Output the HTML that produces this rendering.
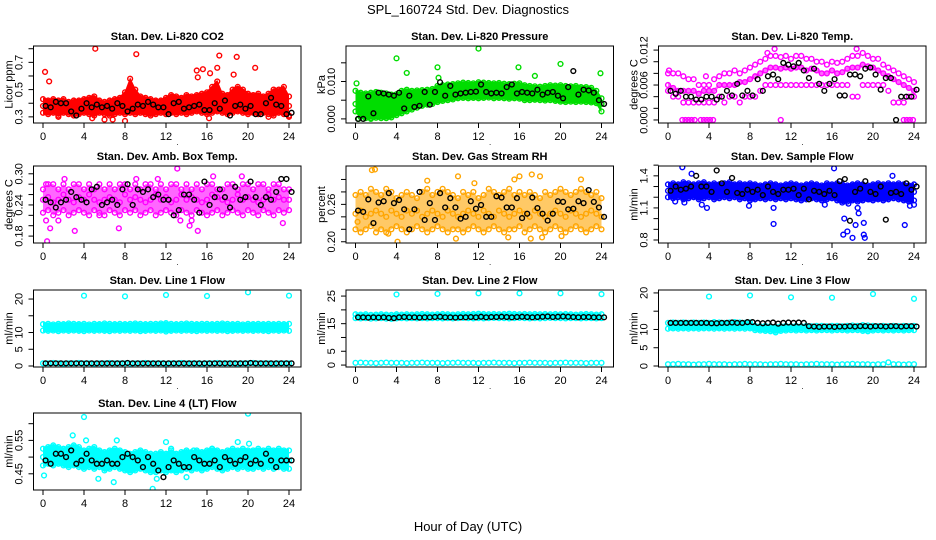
<!DOCTYPE html>
<html><head><meta charset="utf-8">
<style>
html,body{margin:0;padding:0;background:#fff;}
svg{display:block;font-family:"Liberation Sans",sans-serif;}
</style></head>
<body>
<svg id="chart" width="936" height="540" viewBox="0 0 936 540">
<text x="468" y="14" text-anchor="middle" font-size="13">SPL_160724  Std. Dev. Diagnostics</text>
<text x="468" y="531" text-anchor="middle" font-size="13">Hour of Day (UTC)</text>
</svg>
<script>
const co2Hi=[0.43,0.42,0.43,0.42,0.43,0.41,0.42,0.42,0.43,0.44,0.45,0.42,0.41,0.42,0.43,0.44,0.48,0.58,0.5,0.45,0.44,0.43,0.42,0.42,0.44,0.46,0.45,0.44,0.46,0.45,0.46,0.47,0.48,0.52,0.56,0.47,0.46,0.5,0.52,0.5,0.47,0.46,0.47,0.45,0.47,0.5,0.5,0.52,0.45];
const co2Mid=[0.38,0.37,0.38,0.36,0.37,0.38,0.37,0.36,0.38,0.37,0.38,0.37,0.36,0.37,0.38,0.37,0.39,0.42,0.4,0.38,0.37,0.38,0.37,0.36,0.38,0.39,0.38,0.37,0.38,0.39,0.38,0.4,0.41,0.43,0.42,0.39,0.38,0.4,0.41,0.4,0.39,0.38,0.39,0.38,0.39,0.4,0.41,0.4,0.38];
const co2Lo=[0.33,0.32,0.33,0.31,0.33,0.32,0.31,0.32,0.33,0.32,0.31,0.33,0.32,0.31,0.32,0.33,0.32,0.33,0.32,0.33,0.32,0.31,0.32,0.33,0.32,0.33,0.32,0.33,0.32,0.33,0.34,0.33,0.32,0.33,0.34,0.33,0.32,0.33,0.34,0.33,0.32,0.33,0.32,0.33,0.32,0.31,0.33,0.32,0.31];
const co2Black=[0.38,0.37,0.41,0.4,0.40,0.34,0.31,0.36,0.40,0.37,0.39,0.37,0.38,0.36,0.40,0.38,0.34,0.36,0.39,0.38,0.41,0.39,0.37,0.37,0.32,0.40,0.41,0.36,0.37,0.38,0.39,0.35,0.35,0.40,0.36,0.42,0.31,0.38,0.39,0.36,0.38,0.32,0.32,0.40,0.44,0.39,0.38,0.32,0.33];
const co2Out=[[0.2,0.63],[0.6,0.56],[5.1,0.8],[9.1,0.76],[15,0.64],[15.1,0.59],[15.6,0.65],[16.3,0.62],[17.2,0.75],[17,0.66],[18.6,0.61],[18.9,0.74],[20.7,0.66],[8,0.27],[6,0.28],[6.8,0.28],[4.8,0.29],[16.2,0.29],[22,0.3],[24,0.3],[1.5,0.3]];

const prHi=[0.0075,0.007,0.0068,0.007,0.0072,0.007,0.0068,0.0065,0.0066,0.0075,0.0078,0.0075,0.0076,0.0077,0.0078,0.008,0.0088,0.009,0.0092,0.0093,0.0095,0.0097,0.0096,0.0095,0.0098,0.0097,0.0096,0.0095,0.0096,0.0094,0.0093,0.0094,0.0095,0.009,0.0088,0.0087,0.0086,0.0088,0.009,0.0089,0.009,0.0088,0.0087,0.0088,0.0085,0.0085,0.0083,0.0075,0.0055];
const prMid=[0.004,0.003,0.0035,0.004,0.0045,0.0035,0.003,0.004,0.0035,0.0045,0.005,0.0045,0.005,0.0055,0.006,0.0062,0.0065,0.007,0.0072,0.0073,0.0075,0.0076,0.0075,0.0074,0.0076,0.0075,0.0074,0.0073,0.0074,0.0072,0.0071,0.0072,0.0073,0.007,0.0068,0.0069,0.0068,0.0067,0.0068,0.0066,0.0067,0.0066,0.0065,0.0066,0.0064,0.0065,0.0064,0.006,0.004];
const prLo=[0.002,0.0005,0.0002,0.0002,0.0003,0.0002,0.0002,0.0004,0.001,0.0015,0.002,0.0025,0.003,0.0035,0.0038,0.004,0.0045,0.0048,0.005,0.0052,0.0055,0.0056,0.0055,0.0056,0.0055,0.0056,0.0057,0.0055,0.0056,0.0055,0.0054,0.0055,0.0054,0.005,0.005,0.0051,0.005,0.0049,0.005,0.0048,0.0046,0.0045,0.0046,0.0045,0.0046,0.0045,0.0044,0.0042,0.002];
const prBlack=[0.0,0.0,0.006,0.0015,0.007,0.0068,0.0065,0.0062,0.007,0.0028,0.0062,0.0032,0.0035,0.0072,0.0038,0.0072,0.0098,0.0062,0.0088,0.0065,0.0068,0.007,0.0072,0.0073,0.0092,0.0072,0.0068,0.0070,0.0068,0.0085,0.0092,0.0068,0.0072,0.0070,0.0068,0.0078,0.0065,0.0070,0.0072,0.0062,0.0055,0.0085,0.0128,0.0065,0.0078,0.0076,0.0070,0.0050,0.0040];
const prOut=[[0.1,0.0095],[4,0.0162],[5,0.0123],[8,0.0138],[8.1,0.011],[12,0.0188],[15.9,0.0138],[17.5,0.0115],[20,0.0147],[23.9,0.0122],[0.3,0.0],[1.5,0.0]];

const tmpHi=[0.008,0.008,0.008,0.0075,0.007,0.007,0.006,0.006,0.006,0.007,0.0075,0.008,0.008,0.0085,0.008,0.0085,0.009,0.0095,0.01,0.0105,0.011,0.011,0.0108,0.011,0.0105,0.011,0.011,0.0105,0.0105,0.01,0.01,0.0095,0.01,0.0098,0.01,0.0105,0.011,0.011,0.0115,0.011,0.0105,0.0105,0.0095,0.009,0.0085,0.008,0.0075,0.007,0.0065];
const tmpMid=[0.006,0.0055,0.005,0.005,0.005,0.005,0.0045,0.005,0.005,0.005,0.006,0.006,0.006,0.006,0.0065,0.0065,0.007,0.0075,0.008,0.0085,0.009,0.009,0.0088,0.009,0.0088,0.009,0.009,0.0085,0.0088,0.0085,0.008,0.008,0.0085,0.008,0.0082,0.0088,0.009,0.009,0.0095,0.0092,0.009,0.0085,0.008,0.0075,0.007,0.0065,0.006,0.0055,0.005];
const tmpLo=[0.005,0.004,0.004,0.003,0.003,0.003,0.003,0.003,0.003,0.003,0.004,0.003,0.004,0.004,0.003,0.004,0.004,0.004,0.005,0.006,0.006,0.006,0.006,0.006,0.006,0.006,0.006,0.006,0.006,0.006,0.006,0.006,0.006,0.006,0.006,0.006,0.004,0.004,0.006,0.006,0.006,0.006,0.006,0.005,0.003,0.003,0.003,0.004,0.004];
const tmpBlack=[0.005,0.0045,0.005,0.004,0.004,0.0035,0.0035,0.004,0.004,0.0035,0.004,0.005,0.0042,0.0062,0.0042,0.005,0.0042,0.007,0.005,0.0075,0.0078,0.007,0.0098,0.0095,0.0092,0.0098,0.0085,0.0072,0.0088,0.0062,0.005,0.0062,0.007,0.0042,0.0042,0.0078,0.0078,0.0075,0.0088,0.009,0.0078,0.0052,0.0072,0.0072,0.0,0.004,0.004,0.004,0.0052];
const tmpOut=[[1.4,0],[1.7,0],[2,0],[2.3,0],[2.6,0],[3.2,0],[3.5,0],[3.8,0],[4.1,0],[4.4,0],[11,0],[23,0],[23.3,0],[23.6,0],[23.9,0],[10.4,0.0122],[18.4,0.0122],[9.7,0.0115],[0.1,0.0085],[3.7,0.0075]];

const ambHi=[0.27,0.28,0.28,0.27,0.28,0.27,0.28,0.28,0.27,0.28,0.27,0.28,0.27,0.28,0.27,0.28,0.28,0.27,0.28,0.27,0.28,0.28,0.27,0.28,0.27,0.28,0.28,0.27,0.28,0.27,0.28,0.27,0.28,0.28,0.27,0.27,0.28,0.28,0.27,0.28,0.28,0.27,0.28,0.28,0.27,0.28,0.28,0.27,0.27];
const ambMid=[0.25,0.255,0.245,0.25,0.26,0.25,0.245,0.255,0.25,0.26,0.25,0.245,0.25,0.255,0.25,0.245,0.26,0.25,0.255,0.25,0.245,0.25,0.26,0.25,0.255,0.245,0.25,0.26,0.25,0.255,0.25,0.245,0.25,0.26,0.255,0.25,0.245,0.25,0.26,0.25,0.255,0.25,0.245,0.25,0.26,0.25,0.255,0.25,0.25];
const ambLo=[0.225,0.23,0.22,0.225,0.23,0.22,0.225,0.23,0.225,0.22,0.23,0.225,0.22,0.23,0.225,0.22,0.23,0.225,0.23,0.22,0.225,0.23,0.22,0.225,0.23,0.225,0.22,0.23,0.225,0.22,0.23,0.225,0.22,0.225,0.23,0.22,0.225,0.23,0.225,0.22,0.23,0.225,0.22,0.23,0.225,0.22,0.23,0.225,0.23];
const ambBlack=[0.25,0.245,0.235,0.245,0.25,0.265,0.255,0.25,0.245,0.27,0.275,0.24,0.245,0.25,0.24,0.27,0.28,0.24,0.27,0.265,0.27,0.255,0.26,0.25,0.25,0.22,0.23,0.26,0.26,0.25,0.225,0.285,0.24,0.255,0.27,0.255,0.235,0.275,0.25,0.255,0.285,0.255,0.24,0.255,0.25,0.265,0.29,0.29,0.265];
const ambOut=[[0.3,0.28],[0.4,0.17],[0.3,0.21],[0.7,0.195],[2.1,0.29],[3.1,0.19],[7.4,0.195],[9.1,0.29],[11.2,0.29],[13.1,0.31],[13.4,0.21],[14.3,0.2],[15.1,0.19],[16.6,0.295],[19.4,0.295],[23.4,0.205],[14.5,0.21],[5.5,0.22],[1.5,0.21]];

const rhHi=[0.275,0.28,0.275,0.285,0.28,0.275,0.285,0.28,0.27,0.275,0.28,0.275,0.27,0.28,0.285,0.275,0.28,0.285,0.28,0.275,0.27,0.28,0.275,0.28,0.27,0.275,0.285,0.28,0.275,0.28,0.285,0.275,0.28,0.275,0.28,0.275,0.27,0.28,0.275,0.28,0.285,0.28,0.275,0.28,0.285,0.28,0.275,0.28,0.27];
const rhMid=[0.245,0.25,0.24,0.245,0.25,0.245,0.24,0.25,0.245,0.24,0.25,0.245,0.25,0.24,0.245,0.25,0.245,0.24,0.25,0.245,0.24,0.245,0.25,0.245,0.24,0.25,0.245,0.24,0.25,0.245,0.24,0.245,0.25,0.245,0.24,0.25,0.245,0.24,0.245,0.25,0.245,0.24,0.25,0.245,0.24,0.245,0.25,0.245,0.24];
const rhLo=[0.22,0.215,0.22,0.225,0.215,0.22,0.215,0.22,0.225,0.22,0.215,0.22,0.225,0.22,0.215,0.22,0.225,0.22,0.215,0.22,0.22,0.215,0.22,0.225,0.22,0.215,0.22,0.225,0.22,0.215,0.22,0.22,0.225,0.215,0.22,0.225,0.22,0.215,0.22,0.225,0.22,0.215,0.22,0.225,0.22,0.215,0.22,0.225,0.22];
const rhBlack=[0.25,0.248,0.268,0.23,0.263,0.265,0.278,0.262,0.267,0.252,0.22,0.252,0.28,0.235,0.262,0.235,0.278,0.255,0.27,0.255,0.237,0.24,0.265,0.253,0.259,0.24,0.24,0.273,0.271,0.255,0.255,0.27,0.238,0.245,0.271,0.254,0.245,0.234,0.245,0.265,0.264,0.252,0.253,0.265,0.262,0.283,0.264,0.255,0.24];
const rhOut=[[1.6,0.315],[1.9,0.316],[10,0.305],[15.5,0.3],[16,0.305],[17.2,0.308],[18,0.305],[22,0.3],[9.8,0.205],[14.9,0.207],[17.1,0.205],[18.2,0.207],[20.1,0.209],[4.1,0.2],[3.2,0.213],[0.2,0.232],[7,0.298],[11.6,0.294]];

const sfHi=[1.32,1.33,1.32,1.34,1.33,1.32,1.33,1.34,1.32,1.33,1.32,1.33,1.34,1.32,1.33,1.32,1.33,1.32,1.31,1.32,1.33,1.32,1.31,1.32,1.33,1.32,1.31,1.32,1.33,1.32,1.31,1.33,1.32,1.33,1.32,1.31,1.32,1.33,1.32,1.31,1.32,1.33,1.32,1.33,1.32,1.33,1.32,1.31,1.32];
const sfMid=[1.26,1.27,1.25,1.26,1.27,1.26,1.25,1.26,1.27,1.26,1.25,1.26,1.27,1.26,1.25,1.26,1.25,1.24,1.26,1.25,1.26,1.25,1.24,1.25,1.26,1.25,1.24,1.25,1.26,1.25,1.24,1.25,1.26,1.24,1.23,1.24,1.25,1.24,1.25,1.26,1.25,1.24,1.25,1.26,1.25,1.26,1.25,1.24,1.25];
const sfLo=[1.2,1.19,1.2,1.18,1.19,1.2,1.18,1.19,1.2,1.18,1.19,1.2,1.19,1.2,1.18,1.19,1.17,1.18,1.19,1.18,1.19,1.18,1.19,1.18,1.19,1.18,1.17,1.18,1.19,1.18,1.17,1.18,1.19,1.17,1.15,1.16,1.17,1.16,1.17,1.18,1.17,1.18,1.17,1.18,1.19,1.18,1.17,1.16,1.17];
const sfBlack=[1.26,1.3,1.27,1.28,1.3,1.4,1.3,1.3,1.25,1.45,1.33,1.25,1.38,1.24,1.23,1.27,1.25,1.27,1.22,1.3,1.25,1.23,1.27,1.27,1.28,1.22,1.28,1.18,1.26,1.25,1.23,1.26,1.22,1.35,1.37,0.98,1.25,1.28,1.35,1.25,1.23,1.3,0.99,1.24,1.25,1.23,1.33,1.27,1.3];
const sfOut=[[1.4,1.48],[2.3,1.42],[0.7,1.16],[1.6,1.15],[3.3,1.13],[3.8,1.1],[7.9,1.12],[10.3,0.95],[10.3,1.1],[15.3,1.13],[16.2,1.47],[17.2,1.0],[17.5,0.88],[17.1,0.85],[18,0.82],[18.3,0.94],[18.6,1.05],[18.5,1.1],[19.1,0.96],[19.1,0.85],[19.2,0.82],[21.9,1.4],[23.1,0.94],[24,1.13],[23.6,1.12],[19.6,1.18],[17.6,1.14]];

const l1Up=[12.5,12.6,12.4,12.6,12.5,12.7,12.6,12.5,12.6,12.4,12.6,12.5,12.7,12.6,12.5,12.6,12.5,12.6,12.7,12.6,12.5,12.6,12.6,12.7,12.8,12.6,12.5,12.6,12.7,12.6,12.5,12.6,12.6,12.5,12.6,12.7,12.6,12.5,12.6,12.4,12.6,12.5,12.6,12.5,12.6,12.5,12.6,12.5,12.6];
const l1Low=[10.6,10.5,10.6,10.4,10.6,10.5,10.6,10.5,10.4,10.6,10.5,10.6,10.5,10.4,10.6,10.5,10.6,10.5,10.6,10.4,10.5,10.6,10.5,10.6,10.3,10.5,10.6,10.5,10.6,10.5,10.4,10.6,10.5,10.6,10.5,10.6,10.4,10.5,10.6,10.5,10.6,10.5,10.6,10.5,10.4,10.6,10.5,10.6,10.5];
const l1Zero=[0.8,0.8,0.9,0.8,0.7,0.8,0.8,0.9,0.8,0.8,0.7,0.8,0.8,0.9,0.8,0.8,0.8,0.7,0.8,0.8,0.9,0.8,0.8,0.8,0.7,0.8,0.8,0.9,0.8,0.8,0.8,0.7,0.8,0.8,0.9,0.8,0.8,0.8,0.7,0.8,0.8,0.9,0.8,0.8,0.8,0.7,0.8,0.8,0.8];
const l1Black=[0.8,0.8,0.8,0.8,0.8,0.8,0.8,0.8,0.8,0.8,0.8,0.8,0.8,0.8,0.8,0.8,0.9,0.8,0.8,0.8,0.8,0.8,0.8,0.8,0.8,0.8,0.8,0.8,0.8,0.8,0.8,0.8,0.8,0.8,0.8,0.8,0.8,0.8,0.8,0.8,0.9,0.8,0.8,0.8,0.8,0.8,0.8,0.8,0.8];
const l1Out=[[4,21],[8,20.8],[12,21.2],[16,20.9],[20,22],[24,21]];

const l2Up=[18.4,18.3,18.4,18.2,18.3,18.4,18.3,18.2,18.4,18.3,18.4,18.3,18.4,18.5,18.4,18.3,18.4,18.5,18.4,18.3,18.4,18.5,18.4,18.5,18.6,18.5,18.4,18.5,18.4,18.5,18.6,18.5,18.4,18.5,18.4,18.5,18.4,18.5,18.4,18.5,18.4,18.5,18.4,18.3,18.4,18.5,18.4,18.3,18.4];
const l2Low=[17.0,16.9,17.0,16.8,16.9,17.0,16.8,16.7,16.9,17.0,16.9,17.0,16.9,17.0,16.9,17.0,17.0,16.9,17.0,16.9,17.0,17.1,17.0,16.9,17.0,16.9,17.0,17.1,17.0,17.0,16.9,17.0,17.1,17.0,16.9,17.0,16.9,17.0,17.1,17.0,17.0,16.9,17.0,17.0,16.9,17.0,17.0,16.9,17.0];
const l2Zero=[0.8,0.9,0.8,0.8,0.7,0.8,0.9,0.8,0.8,0.8,0.7,0.8,0.8,0.9,0.8,0.8,0.8,0.7,0.8,0.8,0.9,0.8,0.8,0.8,0.7,0.8,0.8,0.9,0.8,0.8,0.8,0.7,0.8,0.8,0.9,0.8,0.8,0.8,0.7,0.8,0.8,0.9,0.8,0.8,0.8,0.7,0.8,0.8,0.8];
const l2Black=[17.3,17.3,17.2,17.3,17.2,17.3,17.1,17.0,17.3,17.4,17.3,17.3,17.2,17.3,17.3,17.4,17.5,17.3,17.3,17.2,17.3,17.3,17.4,17.3,17.5,17.3,17.4,17.4,17.5,17.4,17.3,17.4,17.5,17.4,17.3,17.4,17.5,17.6,17.4,17.5,17.6,17.5,17.4,17.3,17.4,17.4,17.3,17.3,17.3];
const l2Out=[[4,25.6],[8,25.8],[12,26],[16,26],[20,26],[24,25.7]];

const l3Up=[11.8,11.9,11.8,11.9,11.8,11.9,11.8,11.9,11.8,12.0,11.9,11.8,11.9,12.0,11.9,11.8,11.9,11.0,10.9,11.0,10.9,10.8,10.9,11.0,10.9,11.0,10.9,11.0,10.9,11.0,11.0,10.9,11.0,11.0,10.9,11.0,11.1,11.0,11.2,11.1,11.0,10.9,11.0,10.9,11.0,10.9,11.0,10.9,11.0];
const l3Low=[10.2,10.3,10.2,10.3,10.2,10.3,10.2,10.3,10.3,10.2,10.3,10.2,10.3,10.2,10.3,10.2,10.3,9.8,9.7,9.6,9.5,9.2,9.6,9.7,9.8,9.7,9.8,9.7,9.8,9.7,9.8,9.8,9.7,9.8,9.8,9.7,9.8,9.8,9.6,9.5,9.7,9.8,9.7,9.8,9.7,9.8,9.7,9.8,9.8];
const l3Zero=[0.5,0.5,0.6,0.5,0.5,0.4,0.5,0.5,0.6,0.5,0.5,0.5,0.4,0.5,0.5,0.6,0.5,0.5,0.5,0.4,0.5,0.5,0.6,0.5,0.5,0.5,0.4,0.5,0.5,0.6,0.5,0.5,0.5,0.4,0.5,0.5,0.6,0.5,0.5,0.5,0.4,0.5,0.5,1.0,0.5,0.5,0.4,0.5,0.5];
const l3Black=[11.8,11.8,11.8,11.8,11.8,11.8,11.8,11.8,11.7,11.7,11.8,11.8,11.9,11.8,11.8,12.0,12.0,11.8,11.7,11.8,11.9,11.6,11.8,11.9,11.8,11.9,11.8,10.9,10.8,10.7,10.8,10.8,10.7,10.8,10.8,10.9,10.8,10.9,10.9,10.8,10.9,10.9,10.8,10.9,10.9,10.8,10.9,10.9,10.8];
const l3Out=[[4,19],[8,19.3],[12,18.8],[16,18.7],[20,19.7],[24,18.4]];

const l4Hi=[0.525,0.53,0.535,0.53,0.525,0.53,0.535,0.53,0.52,0.525,0.53,0.52,0.515,0.52,0.525,0.52,0.515,0.51,0.515,0.52,0.515,0.51,0.51,0.515,0.51,0.52,0.51,0.515,0.52,0.515,0.52,0.515,0.52,0.525,0.52,0.515,0.52,0.525,0.52,0.525,0.52,0.52,0.525,0.52,0.525,0.52,0.525,0.52,0.52];
const l4Mid=[0.5,0.505,0.5,0.51,0.5,0.505,0.5,0.495,0.49,0.5,0.495,0.49,0.485,0.49,0.495,0.49,0.485,0.48,0.485,0.49,0.485,0.48,0.48,0.485,0.48,0.485,0.48,0.485,0.49,0.485,0.49,0.485,0.49,0.495,0.49,0.485,0.49,0.495,0.49,0.495,0.49,0.49,0.495,0.49,0.495,0.49,0.495,0.49,0.49];
const l4Lo=[0.475,0.48,0.475,0.48,0.475,0.47,0.475,0.47,0.465,0.47,0.465,0.47,0.46,0.465,0.47,0.465,0.46,0.455,0.46,0.465,0.46,0.455,0.455,0.46,0.455,0.46,0.455,0.46,0.465,0.46,0.465,0.46,0.465,0.47,0.465,0.46,0.465,0.47,0.465,0.47,0.465,0.465,0.47,0.465,0.47,0.465,0.47,0.465,0.465];
const l4Black=[0.49,0.48,0.51,0.51,0.5,0.52,0.48,0.49,0.51,0.49,0.48,0.48,0.49,0.48,0.48,0.50,0.51,0.50,0.49,0.47,0.50,0.48,0.46,0.44,0.47,0.49,0.48,0.47,0.47,0.50,0.49,0.48,0.48,0.49,0.47,0.50,0.49,0.48,0.49,0.50,0.48,0.49,0.48,0.51,0.49,0.47,0.49,0.49,0.49];
const l4Out=[[0.1,0.445],[4,0.62],[2.9,0.565],[7.2,0.55],[4.2,0.55],[20,0.63],[12,0.545],[12.5,0.525],[19,0.545],[20.1,0.54],[5.4,0.435],[6.9,0.425],[10.7,0.405],[11.1,0.435],[14,0.44],[16.5,0.525],[14.7,0.52]];

const hours=[];for(let i=0;i<49;i++)hours.push(i*0.5);
const xTickVals=[0,4,8,12,16,20,24];

const panels=[
 {id:'co2',col:0,row:0,title:'Stan. Dev. Li-820 CO2',ylab:'Licor ppm',ymin:0.255,ymax:0.82,ticks:[0.3,0.4,0.5,0.6,0.7,0.8],labels:[[0.3,'0.3'],[0.5,'0.5'],[0.7,'0.7']],color:'#ff0000',bands:[[co2Hi,co2Lo]],op:1,pad:1.5,pts:[co2Hi,co2Mid,co2Lo],out:co2Out,black:co2Black},
 {id:'pressure',col:1,row:0,title:'Stan. Dev. Li-820 Pressure',ylab:'kPa',ymin:-0.0011,ymax:0.0195,ticks:[0,0.005,0.01,0.015],labels:[[0,'0.000'],[0.01,'0.010']],color:'#00dd00',bands:[[prHi,prLo]],op:1,pad:1.5,pts:[prHi,prMid,prLo],out:prOut,black:prBlack},
 {id:'temp',col:2,row:0,title:'Stan. Dev. Li-820 Temp.',ylab:'degrees C',ymin:-0.00052,ymax:0.0127,ticks:[0,0.002,0.004,0.006,0.008,0.01,0.012],labels:[[0,'0.000'],[0.006,'0.006'],[0.012,'0.012']],color:'#ff00ff',bands:[[tmpMid,tmpMid]],op:0.6,pad:2,pts:[tmpHi,tmpMid,tmpLo],out:tmpOut,black:tmpBlack},
 {id:'ambbox',col:0,row:1,title:'Stan. Dev. Amb. Box Temp.',ylab:'degrees C',ymin:0.1667,ymax:0.315,ticks:[0.18,0.2,0.22,0.24,0.26,0.28,0.3],labels:[[0.18,'0.18'],[0.24,'0.24'],[0.3,'0.30']],color:'#ff00ff',bands:[[ambHi,ambLo]],op:0.6,pad:0,pts:[ambHi,ambMid,ambLo],out:ambOut,black:ambBlack},
 {id:'rh',col:1,row:1,title:'Stan. Dev. Gas Stream RH',ylab:'percent',ymin:0.198,ymax:0.3216,ticks:[0.2,0.22,0.24,0.26,0.28,0.3],labels:[[0.2,'0.20'],[0.26,'0.26']],color:'#ffa500',bands:[[rhHi,rhLo]],op:0.6,pad:0,pts:[rhHi,rhMid,rhLo],out:rhOut,black:rhBlack},
 {id:'sampleflow',col:2,row:1,title:'Stan. Dev. Sample Flow',ylab:'ml/min',ymin:0.772,ymax:1.492,ticks:[0.8,0.9,1.0,1.1,1.2,1.3,1.4,1.5],labels:[[0.8,'0.8'],[1.1,'1.1'],[1.4,'1.4']],color:'#0000ff',bands:[[sfHi,sfLo]],op:1,pad:1.5,pts:[sfHi,sfMid,sfLo],out:sfOut,black:sfBlack},
 {id:'line1',col:0,row:2,title:'Stan. Dev. Line 1 Flow',ylab:'ml/min',ymin:-0.3,ymax:22.7,ticks:[0,5,10,15,20],labels:[[0,'0'],[5,'5'],[10,'10'],[20,'20']],color:'#00ffff',bands:[[l1Up,l1Low]],op:1,pad:1.5,pts:[l1Up,l1Low,l1Zero],out:l1Out,black:l1Black},
 {id:'line2',col:1,row:2,title:'Stan. Dev. Line 2 Flow',ylab:'ml/min',ymin:-0.7,ymax:27.2,ticks:[0,5,10,15,20,25],labels:[[0,'0'],[5,'5'],[15,'15'],[25,'25']],color:'#00ffff',bands:[[l2Up,l2Low]],op:1,pad:1.5,pts:[l2Up,l2Low,l2Zero],out:l2Out,black:l2Black},
 {id:'line3',col:2,row:2,title:'Stan. Dev. Line 3 Flow',ylab:'ml/min',ymin:-0.27,ymax:20.8,ticks:[0,5,10,15,20],labels:[[0,'0'],[5,'5'],[10,'10'],[20,'20']],color:'#00ffff',bands:[[l3Up,l3Low]],op:1,pad:1.5,pts:[l3Up,l3Low,l3Zero],out:l3Out,black:l3Black},
 {id:'line4',col:0,row:3,title:'Stan. Dev. Line 4 (LT) Flow',ylab:'ml/min',ymin:0.4015,ymax:0.632,ticks:[0.45,0.5,0.55,0.6],labels:[[0.45,'0.45'],[0.55,'0.55']],color:'#00ffff',bands:[[l4Hi,l4Lo]],op:1,pad:1.5,pts:[l4Hi,l4Mid,l4Lo],out:l4Out,black:l4Black}
];
const rowTops=[46,166,290,413];
const NS='http://www.w3.org/2000/svg';
const svg=document.getElementById('chart');
function mk(tag,attrs,parent){const e=document.createElementNS(NS,tag);for(const k in attrs)e.setAttribute(k,attrs[k]);parent.appendChild(e);return e;}

panels.forEach(p=>{
  const x0=43+p.col*312.5, x24=289+p.col*312.5;
  const left=x0-9.5, right=x24+12, top=rowTops[p.row], bottom=top+77;
  const xs=h=>x0+h/24*(x24-x0);
  const ys=v=>bottom-(v-p.ymin)/(p.ymax-p.ymin)*(bottom-top);
  const g=mk('g',{},svg);
  
  
  const clipId='clip-'+p.id;
  const cp=mk('clipPath',{id:clipId},g);
  mk('rect',{x:left,y:top,width:right-left,height:bottom-top},cp);
  const t=mk('text',{x:(left+right)/2,y:top-6,'text-anchor':'middle','font-size':'11','font-weight':'bold'},g);
  t.textContent=p.title;
  
  
  const marks=mk('g',{'clip-path':'url(#'+clipId+')'},g);
  
  
  p.bands.forEach(b=>{
    const hi=b[0],lo=b[1];let pts=[];
    hi.forEach((v,i)=>pts.push(xs(hours[i])+','+(ys(v)-p.pad)));
    for(let i=lo.length-1;i>=0;i--)pts.push(xs(hours[i])+','+(ys(lo[i])+p.pad));
    const poly=mk('polygon',{points:pts.join(' '),fill:p.color,'fill-opacity':p.op},marks);
    
    
  });
  const circ=(h,v,col)=>{const c=mk('circle',{cx:xs(h),cy:ys(v),r:2.4,fill:'none',stroke:col,'stroke-width':1.4},marks);
    
    };
  p.pts.forEach(arr=>arr.forEach((v,i)=>circ(hours[i],v,p.color)));
  p.out.forEach(o=>circ(o[0],o[1],p.color));
  p.black.forEach((v,i)=>circ(hours[i]+0.25,v,'#000'));
  const box=mk('rect',{x:left,y:top,width:right-left,height:bottom-top,fill:'none',stroke:'#000','stroke-width':1},g);
  
  
  xTickVals.forEach(h=>{
    mk('line',{x1:xs(h),x2:xs(h),y1:bottom,y2:bottom+5,stroke:'#000'},g);
    const lt=mk('text',{x:xs(h),y:bottom+17,'text-anchor':'middle','font-size':'11'},g);
    lt.textContent=String(h);
    
    
  });
  p.ticks.forEach(v=>{mk('line',{x1:left-5,x2:left,y1:ys(v),y2:ys(v),stroke:'#000'},g);});
  p.labels.forEach(l=>{
    const yt=mk('text',{x:0,y:0,'text-anchor':'middle','font-size':'11',transform:'translate('+(left-11)+','+ys(l[0])+') rotate(-90)'},g);
    yt.textContent=l[1];
    
    
  });
  const yl=mk('text',{x:0,y:0,'text-anchor':'middle','font-size':'11',transform:'translate('+(left-21)+','+((top+bottom)/2)+') rotate(-90)'},g);
  yl.textContent=p.ylab;
  
  
  if(p.row<3){const d=mk('text',{x:left+143,y:bottom+22,'font-size':'8'},g);d.textContent='.';
    
    }
});
</script>
</body></html>
